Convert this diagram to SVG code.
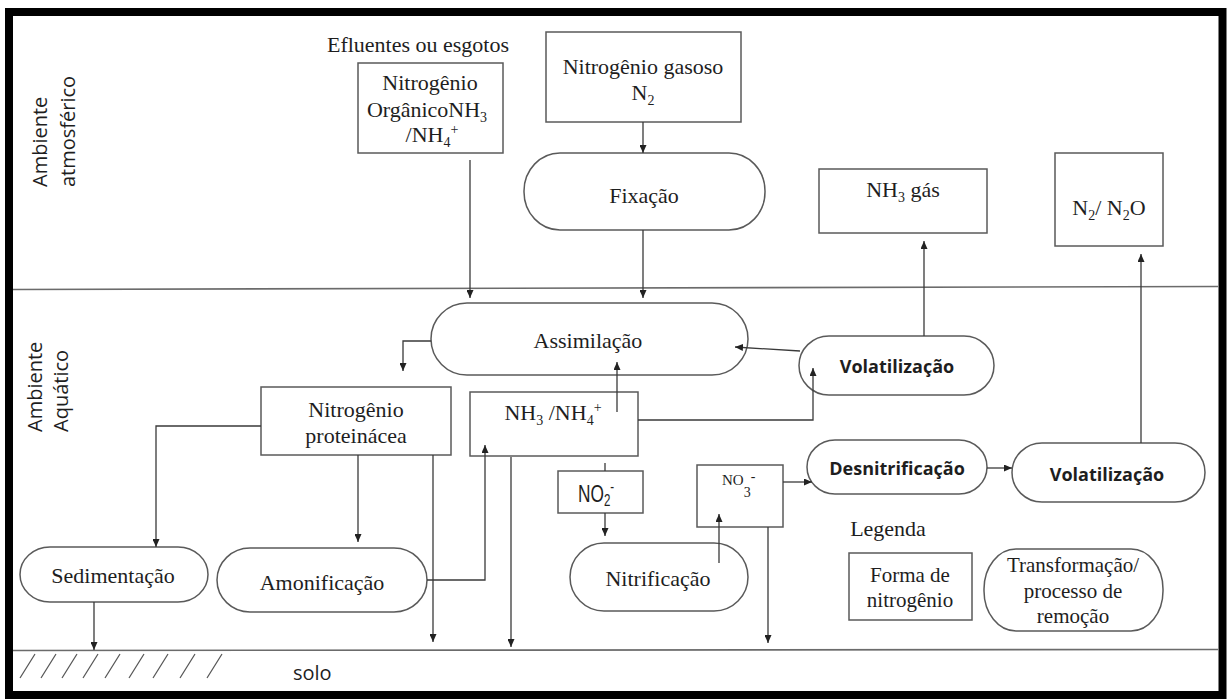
<svg xmlns="http://www.w3.org/2000/svg" width="1231" height="699" viewBox="0 0 1231 699">
<style>
.frame{fill:none;stroke:#000;stroke-width:8}
.sep{fill:none;stroke:#6b6b6b;stroke-width:1.6}
.box{fill:#fff;stroke:#5a5a5a;stroke-width:1.5}
.con{fill:none;stroke:#3a3a3a;stroke-width:1.3}
.hatch{fill:none;stroke:#555;stroke-width:1.2}
.serif{font-family:"Liberation Serif","Times New Roman",serif;font-size:22px;fill:#1e1e1e;text-anchor:middle}
.leg{font-family:"Liberation Serif","Times New Roman",serif;font-size:21px;fill:#1e1e1e;text-anchor:middle}
.bold{font-family:"Open Sans","Noto Sans",sans-serif;font-size:18px;font-weight:bold;fill:#1e1e1e;text-anchor:middle}
.side{font-family:"Open Sans","Noto Sans",sans-serif;font-size:20px;fill:#1e1e1e}
.sub{font-size:14px}
</style>
<defs>
<marker id="ah" markerUnits="userSpaceOnUse" markerWidth="8" markerHeight="7" refX="8" refY="3.5" orient="auto">
<path d="M0,0 L8,3.5 L0,7 z" fill="#222"/>
</marker>
</defs>
<rect width="1231" height="699" fill="#fff"/>
<rect class="frame" x="9" y="12" width="1213.5" height="683"/>
<g id="zones">
<line class="sep" x1="13" y1="289.5" x2="1218" y2="286.5"/>
<line class="sep" x1="13" y1="650.5" x2="1218" y2="649.5"/>
<g class="hatch">
<line x1="20" y1="678" x2="35" y2="654"/>
<line x1="41" y1="678" x2="56" y2="654"/>
<line x1="62" y1="678" x2="77" y2="654"/>
<line x1="83" y1="678" x2="98" y2="654"/>
<line x1="105" y1="678" x2="120" y2="654"/>
<line x1="129" y1="678" x2="144" y2="654"/>
<line x1="153" y1="678" x2="168" y2="654"/>
<line x1="180" y1="678" x2="195" y2="654"/>
<line x1="207" y1="678" x2="222" y2="654"/>
</g>
<text class="side" transform="translate(47,187) rotate(-90)">Ambiente</text>
<text class="side" transform="translate(75,187) rotate(-90)">atmosférico</text>
<text class="side" transform="translate(42,432) rotate(-90)">Ambiente</text>
<text class="side" transform="translate(68,432) rotate(-90)">Aquático</text>
<text class="side" x="293" y="680">solo</text>
</g>
<g id="efluentes">
<text class="serif" x="418" y="52">Efluentes ou esgotos</text>
<rect class="box" x="358" y="63" width="145" height="90"/>
<text class="serif" x="430" y="90">Nitrogênio</text>
<text class="serif" x="427" y="117">OrgânicoNH<tspan class="sub" dy="5">3</tspan></text>
<text class="serif" x="432" y="142">/NH<tspan class="sub" dy="5">4</tspan><tspan class="sub" dy="-13">+</tspan></text>
</g>
<g id="n2gas">
<rect class="box" x="546" y="32" width="195" height="90"/>
<text class="serif" x="643" y="74">Nitrogênio gasoso</text>
<text class="serif" x="643" y="100">N<tspan class="sub" dy="5">2</tspan></text>
</g>
<g id="fixacao">
<rect class="box" x="524" y="153" width="241" height="77" rx="36" ry="38"/>
<text class="serif" x="644" y="203">Fixação</text>
</g>
<g id="nh3gas">
<rect class="box" x="819" y="169" width="168" height="64"/>
<text class="serif" x="903" y="197">NH<tspan class="sub" dy="5">3</tspan><tspan dy="-5"> gás</tspan></text>
</g>
<g id="n2o">
<rect class="box" x="1055" y="153" width="108" height="93"/>
<text class="serif" x="1109" y="215">N<tspan class="sub" dy="5">2</tspan><tspan dy="-5">/ N</tspan><tspan class="sub" dy="5">2</tspan><tspan dy="-5">O</tspan></text>
</g>
<g id="assimilacao">
<rect class="box" x="431" y="303" width="317" height="72" rx="36" ry="36"/>
<text class="serif" x="588" y="348">Assimilação</text>
</g>
<g id="volatilizacao1">
<rect class="box" x="799" y="336" width="195" height="59" rx="30" ry="29.5"/>
<text class="bold" x="897" y="373">Volatilização</text>
</g>
<g id="proteinacea">
<rect class="box" x="261" y="387" width="190" height="68"/>
<text class="serif" x="356" y="417">Nitrogênio</text>
<text class="serif" x="356" y="443">proteinácea</text>
</g>
<g id="nh3nh4">
<rect class="box" x="470" y="392" width="168" height="64"/>
<text class="serif" x="553" y="420">NH<tspan class="sub" dy="5">3</tspan><tspan dy="-5"> /NH</tspan><tspan class="sub" dy="5">4</tspan><tspan class="sub" dy="-13">+</tspan></text>
</g>
<g id="no2">
<rect class="box" x="558" y="471" width="85" height="42"/>
<text transform="translate(578,502) scale(0.72,1)" font-family="Liberation Sans, Arial, sans-serif" font-size="24" fill="#1e1e1e">NO<tspan font-size="16" dy="4">2</tspan><tspan font-size="16" dy="-14">-</tspan></text>
</g>
<g id="no3">
<rect class="box" x="697" y="465" width="86" height="62"/>
<text x="722" y="485" font-family="Liberation Serif, serif" font-size="15" fill="#1e1e1e">NO<tspan font-size="14" dy="12">3</tspan><tspan font-size="14" dy="-16">-</tspan></text>
</g>
<g id="desnitrificacao">
<rect class="box" x="807" y="440" width="180" height="54" rx="28" ry="27"/>
<text class="bold" x="897" y="475">Desnitrificação</text>
</g>
<g id="volatilizacao2">
<rect class="box" x="1012" y="443" width="193" height="59" rx="30" ry="29.5"/>
<text class="bold" x="1107" y="481">Volatilização</text>
</g>
<g id="sedimentacao">
<rect class="box" x="20" y="547" width="188" height="55" rx="30" ry="27.5"/>
<text class="serif" x="113" y="583">Sedimentação</text>
</g>
<g id="amonificacao">
<rect class="box" x="217" y="548" width="210" height="64" rx="33" ry="32"/>
<text class="serif" x="322" y="590">Amonificação</text>
</g>
<g id="nitrificacao">
<rect class="box" x="570" y="543" width="178" height="68" rx="34" ry="34"/>
<text class="serif" x="658" y="586">Nitrificação</text>
</g>
<g id="legenda">
<text class="serif" x="888" y="536">Legenda</text>
<rect class="box" x="849" y="553" width="123" height="67"/>
<text class="leg" x="910" y="582">Forma de</text>
<text class="leg" x="910" y="607">nitrogênio</text>
<rect class="box" x="984" y="549" width="179" height="82" rx="32" ry="40"/>
<text class="leg" x="1073" y="572">Transformação/</text>
<text class="leg" x="1073" y="598">processo de</text>
<text class="leg" x="1073" y="623">remoção</text>
</g>
<g id="connectors">
<path class="con" marker-end="url(#ah)" d="M643,122 V153"/>
<path class="con" marker-end="url(#ah)" d="M470,160 V298"/>
<path class="con" marker-end="url(#ah)" d="M643,230 V298"/>
<path class="con" marker-end="url(#ah)" d="M431,341 H403 V371"/>
<path class="con" marker-end="url(#ah)" d="M617,412 V362"/>
<path class="con" marker-end="url(#ah)" d="M800,351 L735,347"/>
<path class="con" marker-end="url(#ah)" d="M638,420 H813 V368"/>
<path class="con" marker-end="url(#ah)" d="M924,336 V241"/>
<path class="con" marker-end="url(#ah)" d="M1141,443 V254"/>
<path class="con" marker-end="url(#ah)" d="M987,468 H1012"/>
<path class="con" marker-end="url(#ah)" d="M783,482 H812"/>
<path class="con" d="M605,463 V471"/>
<path class="con" marker-end="url(#ah)" d="M605,513 V536"/>
<path class="con" marker-end="url(#ah)" d="M719,563 V514"/>
<path class="con" marker-end="url(#ah)" d="M768,527 V643"/>
<path class="con" marker-end="url(#ah)" d="M261,426 H156 V547"/>
<path class="con" marker-end="url(#ah)" d="M358,455 V542"/>
<path class="con" marker-end="url(#ah)" d="M433,455 V642"/>
<path class="con" marker-end="url(#ah)" d="M427,580 H485 V445"/>
<path class="con" marker-end="url(#ah)" d="M511,457 V647"/>
<path class="con" marker-end="url(#ah)" d="M94,602 V650"/>
</g>
</svg>
